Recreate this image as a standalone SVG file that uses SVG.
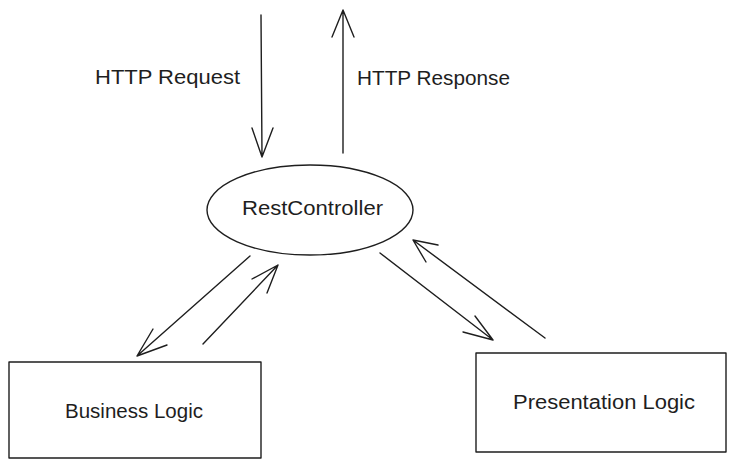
<svg xmlns="http://www.w3.org/2000/svg" width="735" height="469" viewBox="0 0 735 469">
<style>
.s{fill:none;stroke:#1e1e1e;stroke-width:1.4;stroke-linecap:round;stroke-linejoin:round}
.t{font-family:"Liberation Sans",Arial,sans-serif;font-size:20px;fill:#1e1e1e;dominant-baseline:central}
</style>
<rect width="735" height="469" fill="#ffffff"/>
<g id="connectors">
<path class="s" d="M261 15 L262 157 M252 128 L262 157 L273 128"/>
<path class="s" d="M343 153 L343 10 M332 37 L343 10 L354 37"/>
<path class="s" d="M250 256 L137 356 M153 329 L137 356 L167 345"/>
<path class="s" d="M203 344 L278 265 M252 279 L278 265 L267 293"/>
<path class="s" d="M380 253 L493 340 M463 332 L493 340 L475 316"/>
<path class="s" d="M545 338 L413 240 M438 245 L413 240 L426 262"/>
</g>
<g id="label-request"><text class="t" x="95" y="77" textLength="145" lengthAdjust="spacingAndGlyphs">HTTP Request</text></g>
<g id="label-response"><text class="t" x="357" y="78" textLength="153" lengthAdjust="spacingAndGlyphs">HTTP Response</text></g>
<g id="restcontroller">
<ellipse class="s" cx="310" cy="210" rx="103" ry="45"/>
<text class="t" x="242" y="208" textLength="141" lengthAdjust="spacingAndGlyphs">RestController</text>
</g>
<g id="business-logic">
<rect class="s" x="9" y="362" width="252" height="96"/>
<text class="t" x="65" y="411" textLength="138" lengthAdjust="spacingAndGlyphs">Business Logic</text>
</g>
<g id="presentation-logic">
<rect class="s" x="476" y="353" width="250" height="99"/>
<text class="t" x="513" y="402" textLength="182" lengthAdjust="spacingAndGlyphs">Presentation Logic</text>
</g>
</svg>
